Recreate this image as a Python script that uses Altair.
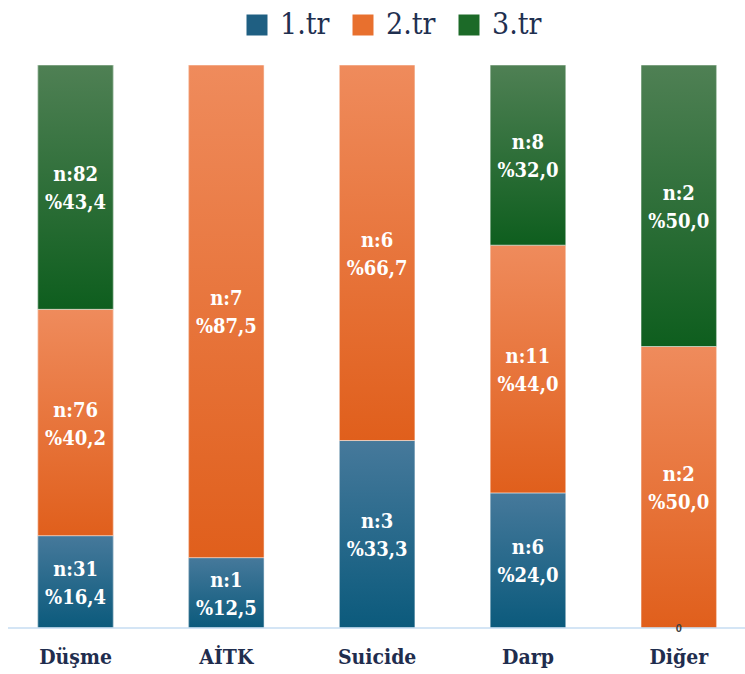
import altair as alt
import pandas as pd

categories = ["Düşme", "AİTK", "Suicide", "Darp", "Diğer"]
series = ["1.tr", "2.tr", "3.tr"]
n_1tr = [31, 1, 3, 6, 0]
n_2tr = [76, 7, 6, 11, 2]
n_3tr = [82, 0, 0, 8, 2]
pct_1tr = [16.4, 12.5, 33.3, 24.0, 0.0]
pct_2tr = [40.2, 87.5, 66.7, 44.0, 50.0]
pct_3tr = [43.4, 0.0, 0.0, 32.0, 50.0]

SERIF = "DejaVu Serif Condensed"

solid = ["#1f5f82", "#e8702e", "#1c6a28"]
grad = {
    "1.tr": ("#46799b", "#0b5a7c"),
    "2.tr": ("#ef8b5c", "#e05f1c"),
    "3.tr": ("#4f8054", "#0e5e1e"),
}

rows = []
for s, ns, ps in zip(series, [n_1tr, n_2tr, n_3tr], [pct_1tr, pct_2tr, pct_3tr]):
    for c, n, p in zip(categories, ns, ps):
        rows.append({
            "cat": c, "series": s, "n": n, "pct": p,
            "label": f"n:{n}\n%{p:.1f}".replace(".", ","),
        })
df = pd.DataFrame(rows)

x_enc = alt.X(
    "cat:N", sort=categories,
    scale=alt.Scale(paddingInner=0.5, paddingOuter=0.22, align=0.57),
    axis=alt.Axis(title=None, labelAngle=0, labelFont=SERIF,
                  labelFontSize=21, labelFontWeight="bold", labelColor="#1f2d4e",
                  ticks=False, domain=False, labelPadding=18),
)
y_scale = alt.Scale(domain=[0, 100])

base = (
    alt.Chart(df)
    .transform_stack(stack="pct", groupby=["cat"], as_=["y0", "y1"],
                     sort=[alt.SortField("series", order="ascending")])
    .transform_calculate(ymid="(datum.y0 + datum.y1) / 2")
)

legend_layer = base.transform_filter("datum.pct > 0").mark_bar().encode(
    x=x_enc,
    y=alt.Y("y0:Q", scale=y_scale, axis=None),
    y2="y1:Q",
    color=alt.Color(
        "series:N", sort=series,
        scale=alt.Scale(domain=series, range=solid),
        legend=alt.Legend(
            title=None, orient="none", direction="horizontal",
            legendX=242, legendY=-55, padding=0,
            symbolType="square", symbolSize=441, symbolStrokeWidth=0,
            labelFont=SERIF, labelFontSize=30, labelColor="#1f3050",
            labelOffset=8, columnPadding=18,
        ),
    ),
)

grad_layers = []
for s in series:
    top, bot = grad[s]
    grad_layers.append(
        base.transform_filter(f"datum.series == '{s}' && datum.pct > 0")
        .mark_bar(
            color=alt.Gradient(
                gradient="linear",
                stops=[alt.GradientStop(color=top, offset=0),
                       alt.GradientStop(color=bot, offset=1)],
                x1=0, x2=0, y1=0, y2=1,
            ),
            stroke="#ffffff", strokeOpacity=0.5, strokeWidth=1,
        )
        .encode(x=x_enc, y=alt.Y("y0:Q", scale=y_scale, axis=None), y2="y1:Q")
    )

text_layer = base.transform_filter("datum.pct > 0").mark_text(
    color="white", font=SERIF, fontSize=20, fontWeight="bold",
    lineBreak="\n", lineHeight=28, baseline="middle", align="center", dy=-12,
).encode(x=x_enc, y=alt.Y("ymid:Q", scale=y_scale, axis=None), text="label:N")

zero_layer = base.transform_filter("datum.n == 0 && datum.series == '1.tr'").mark_text(
    color="#404040", font="Liberation Sans", fontSize=11, fontWeight="bold",
    baseline="middle", align="center", dy=1,
).encode(x=x_enc, y=alt.Y("y0:Q", scale=y_scale, axis=None), text="n:N")

rule = alt.Chart(pd.DataFrame({"a": [0]})).mark_rule(color="#c6dcf2", strokeWidth=1.5).encode(
    x=alt.value(8), x2=alt.value(745), y=alt.value(563)
)

chart = (
    alt.layer(legend_layer, *grad_layers, rule, text_layer, zero_layer)
    .properties(
        width=745, height=563,
        autosize=alt.AutoSizeParams(type="none"),
        padding={"left": 0, "top": 65, "right": 0, "bottom": 40},
        background="white",
    )
    .configure_view(stroke=None)
)

chart.save("out.html", embed_options={"renderer": "svg", "actions": False})
